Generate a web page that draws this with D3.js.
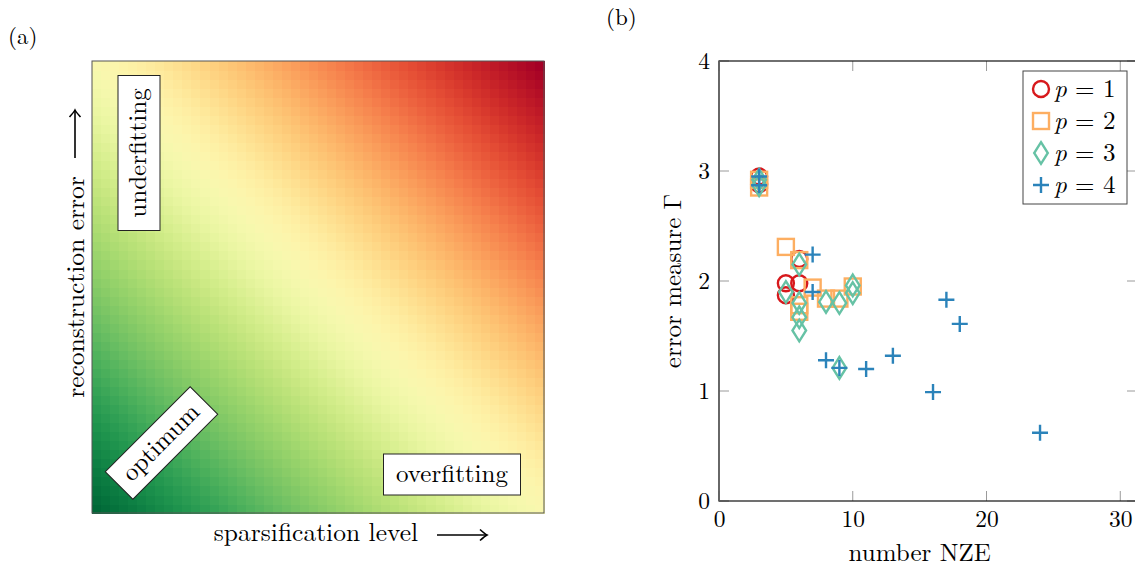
<!DOCTYPE html>
<html>
<head>
<meta charset="utf-8">
<script src="https://cdn.jsdelivr.net/npm/d3@7"></script>
<style>
  html, body { margin: 0; padding: 0; background: #fff; }
  svg { display: block; }
</style>
</head>
<body>
<svg id="chart" width="1135" height="568"></svg>
<script>
// ---------- Data ----------
// Panel (a): schematic trade-off map (grid levels, 0 = low, 1 = high)
const gridSteps = 50;
const sparsityLevels = d3.range(gridSteps).map(i => i / (gridSteps - 1));
const errorLevels = d3.range(gridSteps).map(i => i / (gridSteps - 1));
const regionLabels = ["underfitting", "optimum", "overfitting"];

// Panel (b): error measure vs number of non-zero elements
const seriesNames = ["p = 1", "p = 2", "p = 3", "p = 4"];
const seriesP = [1, 2, 3, 4];
const p1Points = [[3, 2.95], [3, 2.88], [5, 1.98], [5, 1.87], [6, 2.20], [6, 1.98]];
const p2Points = [[3, 2.92], [3, 2.85], [5, 2.31], [6, 2.19], [6, 1.78], [6, 1.72],
                  [7, 1.94], [8, 1.84], [9, 1.84], [10, 1.95]];
const p3Points = [[3, 2.92], [3, 2.87], [5, 1.90], [6, 2.15], [6, 1.80], [6, 1.67],
                  [6, 1.55], [8, 1.81], [9, 1.80], [9, 1.21], [10, 1.96], [10, 1.89]];
const p4Points = [[3, 2.95], [3, 2.87], [7, 2.24], [7, 1.90], [8, 1.28], [9, 1.21],
                  [11, 1.20], [13, 1.32], [16, 0.99], [17, 1.83], [18, 1.61], [24, 0.62]];
const xTicks = [0, 10, 20, 30];
const yTicks = [0, 1, 2, 3, 4];

// ---------- Drawing ----------
const FONT = "'Latin Modern Roman', 'Liberation Serif', serif";
const svg = d3.select("#chart");
const colors = ["#d7191c", "#fdae61", "#66c2a5", "#2b83ba"];
function txt(parent, size) {
  return parent.append("text").style("font-family", FONT).attr("font-size", size).attr("fill", "#000");
}

// ===== Panel (a) =====
const A = { left: 92, right: 544, top: 61, bottom: 513 };
const ax = d3.scaleBand().domain(sparsityLevels).range([A.left, A.right]);
const ay = d3.scaleBand().domain(errorLevels).range([A.bottom, A.top]);
const heat = d3.scaleSequential(t => d3.interpolateRdYlGn(1 - t)).domain([0, 2]);

const cells = [];
sparsityLevels.forEach(s => errorLevels.forEach(e => cells.push({ s, e })));
svg.append("g").selectAll("rect").data(cells).join("rect")
  .attr("x", d => ax(d.s))
  .attr("y", d => ay(d.e))
  .attr("width", ax.bandwidth() + 0.6)
  .attr("height", ay.bandwidth() + 0.6)
  .attr("fill", d => heat(d.s + d.e))
  .attr("shape-rendering", "crispEdges");
svg.append("rect")
  .attr("x", A.left).attr("y", A.top)
  .attr("width", A.right - A.left).attr("height", A.bottom - A.top)
  .attr("fill", "none").attr("stroke", "#555").attr("stroke-width", 1);

txt(svg, 23).attr("x", 8).attr("y", 44).text("(a)");

// boxed labels
function boxLabel(cx, cy, w, h, rot, label) {
  const g = svg.append("g").attr("transform", `translate(${cx},${cy}) rotate(${rot})`);
  g.append("rect").attr("x", -w / 2).attr("y", -h / 2).attr("width", w).attr("height", h)
    .attr("fill", "#fff").attr("stroke", "#222").attr("stroke-width", 1);
  txt(g, 25).attr("text-anchor", "middle").attr("y", 7).text(label);
}
boxLabel(139, 153, 155, 42, -90, regionLabels[0]);
boxLabel(161.5, 443, 120, 39, -45, regionLabels[1]);
boxLabel(452, 474.5, 137, 41, 0, regionLabels[2]);

// axis labels of (a)
txt(svg, 25.5).attr("x", 316).attr("y", 541).attr("text-anchor", "middle").text("sparsification level");
function arrow(x1, y1, x2, y2) {
  svg.append("line").attr("x1", x1).attr("y1", y1).attr("x2", x2).attr("y2", y2)
    .attr("stroke", "#000").attr("stroke-width", 1.6);
  const ang = Math.atan2(y2 - y1, x2 - x1);
  const g = svg.append("g").attr("transform", `translate(${x2},${y2}) rotate(${ang * 180 / Math.PI})`);
  g.append("path").attr("d", "M-7,-5.5 Q-2,-1 0,0 Q-2,1 -7,5.5")
    .attr("fill", "none").attr("stroke", "#000").attr("stroke-width", 1.6);
}
arrow(437, 535, 487, 535);
txt(svg, 25.5).attr("transform", "translate(84,287) rotate(-90)")
  .attr("text-anchor", "middle").text("reconstruction error");
arrow(75, 158, 75, 110);

// ===== Panel (b) =====
const B = { left: 719, right: 1137, top: 61, bottom: 501 };
const x = d3.scaleLinear().domain([0, 31.25]).range([B.left, B.right]);
const y = d3.scaleLinear().domain([0, 4]).range([B.bottom, B.top]);

txt(svg, 23).attr("x", 606).attr("y", 25).text("(b)");

const tickLen = 10;
const gT = svg.append("g").attr("stroke", "#9a9a9a").attr("stroke-width", 1);
xTicks.forEach(t => {
  gT.append("line").attr("x1", x(t)).attr("x2", x(t)).attr("y1", B.bottom).attr("y2", B.bottom - tickLen);
  gT.append("line").attr("x1", x(t)).attr("x2", x(t)).attr("y1", B.top).attr("y2", B.top + tickLen);
});
yTicks.forEach(t => {
  gT.append("line").attr("x1", B.left).attr("x2", B.left + tickLen).attr("y1", y(t)).attr("y2", y(t));
  gT.append("line").attr("x1", B.right).attr("x2", B.right - tickLen).attr("y1", y(t)).attr("y2", y(t));
});

// axes via d3 for labels
const xAxis = d3.axisBottom(x).tickValues(xTicks).tickFormat(d3.format("d")).tickSize(0).tickPadding(9);
const yAxis = d3.axisLeft(y).tickValues(yTicks).tickFormat(d3.format("d")).tickSize(0).tickPadding(9);
const gx = svg.append("g").attr("transform", `translate(0,${B.bottom})`).call(xAxis);
const gy = svg.append("g").attr("transform", `translate(${B.left},0)`).call(yAxis);
[gx, gy].forEach(g => {
  g.select(".domain").remove();
  g.selectAll("text").style("font-family", FONT).attr("font-size", 23.5).attr("fill", "#000");
});

// frame
svg.append("rect").attr("x", B.left).attr("y", B.top)
  .attr("width", B.right - B.left).attr("height", B.bottom - B.top)
  .attr("fill", "none").attr("stroke", "#111").attr("stroke-width", 1.2);
svg.append("line").attr("x1", B.left).attr("x2", B.left).attr("y1", B.top).attr("y2", B.bottom)
  .attr("stroke", "#666").attr("stroke-width", 1.6);

txt(svg, 25).attr("x", (x(10) + x(20)) / 2).attr("y", 561).attr("text-anchor", "middle").text("number NZE");
txt(svg, 25).attr("transform", `translate(681,${(y(1) + y(3)) / 2}) rotate(-90)`)
  .attr("text-anchor", "middle").text("error measure Γ");

// markers
const ms = 8;
function drawMarker(g, kind, cx, cy, color, s) {
  const common = sel => sel.attr("fill", "none").attr("stroke", color).attr("stroke-width", 2.4);
  if (kind === 0) {
    common(g.append("circle").attr("cx", cx).attr("cy", cy).attr("r", s));
  } else if (kind === 1) {
    common(g.append("rect").attr("x", cx - s).attr("y", cy - s).attr("width", 2 * s).attr("height", 2 * s));
  } else if (kind === 2) {
    common(g.append("path").attr("d", `M${cx},${cy - s * 1.35}L${cx + s * 0.85},${cy}L${cx},${cy + s * 1.35}L${cx - s * 0.85},${cy}Z`));
  } else {
    common(g.append("path").attr("d", `M${cx - s},${cy}H${cx + s}M${cx},${cy - s}V${cy + s}`));
  }
}
const allSeries = [p1Points, p2Points, p3Points, p4Points];
const gm = svg.append("g");
allSeries.forEach((pts, k) => {
  pts.forEach(([vx, vy]) => drawMarker(gm, k, x(vx), y(vy), colors[k], ms));
});

// legend
const L = { x: 1023, y: 71, w: 104, h: 133 };
svg.append("rect").attr("x", L.x).attr("y", L.y).attr("width", L.w).attr("height", L.h)
  .attr("fill", "#fff").attr("stroke", "#444").attr("stroke-width", 1);
seriesNames.forEach((name, k) => {
  const cy = L.y + 18 + k * 32;
  drawMarker(svg, k, L.x + 18, cy, colors[k], 8);
  const t = txt(svg, 25).attr("x", L.x + 31).attr("y", cy + 8);
  t.append("tspan").attr("font-style", "italic").text("p");
  t.append("tspan").text(" = " + seriesP[k]);
});
</script>
</body>
</html>
